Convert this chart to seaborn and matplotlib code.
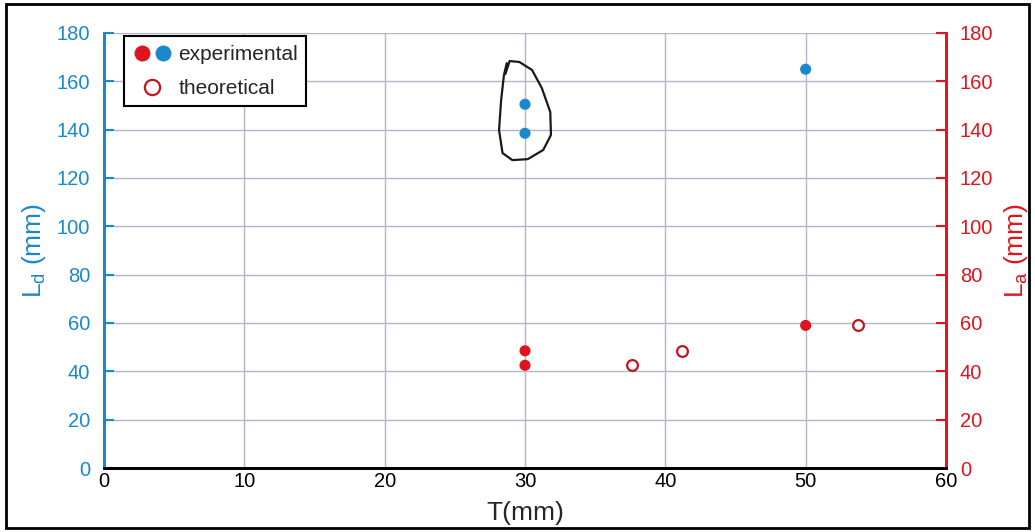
import numpy as np
import pandas as pd
import matplotlib
matplotlib.use("Agg")
import matplotlib.pyplot as plt
import seaborn as sns
from matplotlib.lines import Line2D
from matplotlib.legend_handler import HandlerTuple
from matplotlib.patches import Rectangle

# ---- data ----
exp_d_T = [30, 30, 50]
exp_d_L = [150.5, 138.5, 165.0]
exp_a_T = [30, 30, 50]
exp_a_L = [48.5, 42.5, 59.0]
theo_a_T = [37.6, 41.2, 53.7]
theo_a_L = [42.5, 48.5, 59.0]
# hand-drawn loop annotation (data coordinates)
loop_T = [28.6, 28.9, 29.6, 30.5, 31.2, 31.8, 31.85, 31.3, 30.2, 29.1, 28.4, 28.15, 28.3, 28.5, 28.7]
loop_L = [163.0, 168.4, 168.0, 164.7, 157.2, 147.3, 137.8, 131.6, 127.8, 127.4, 130.3, 139.8, 152.3, 162.6, 167.5]
x_ticks = [0, 10, 20, 30, 40, 50, 60]
y_ticks = [0, 20, 40, 60, 80, 100, 120, 140, 160, 180]

BLUE = "#1a88cc"
RED = "#e0141e"
DARKRED = "#c0161e"
GRID = "#b2b6c8"

sns.set_style("white")
plt.rcParams['font.family'] = ['Liberation Sans', 'DejaVu Sans']
plt.rcParams['mathtext.fontset'] = 'custom'
plt.rcParams['mathtext.rm'] = 'Liberation Sans'
plt.rcParams['mathtext.it'] = 'Liberation Sans'

fig = plt.figure(figsize=(10.35, 5.32), dpi=100)
ax = fig.add_axes([0.1005, 0.1203, 0.8135, 0.8177])
ax2 = ax.twinx()

df_d = pd.DataFrame({"T": exp_d_T, "L": exp_d_L})
df_a = pd.DataFrame({"T": exp_a_T, "L": exp_a_L})
df_t = pd.DataFrame({"T": theo_a_T, "L": theo_a_L})

sns.scatterplot(data=df_d, x="T", y="L", ax=ax, color=BLUE, s=64, edgecolor="none", zorder=3)
ax.plot(loop_T, loop_L, color="#1a1a1a", lw=1.6, zorder=4, solid_capstyle="round")

sns.scatterplot(data=df_a, x="T", y="L", ax=ax2, color=RED, s=64, edgecolor="none", zorder=3)
sns.scatterplot(data=df_t, x="T", y="L", ax=ax2, facecolor="white", edgecolor=DARKRED,
                s=60, linewidth=1.6, zorder=3)

for a in (ax, ax2):
    a.set_xlim(0, 60)
    a.set_ylim(0, 180)
    a.set_yticks(y_ticks)
    a.set_xticks(x_ticks)

ax.grid(True, color=GRID, lw=1.0)
ax.set_axisbelow(True)

ax.set_xlabel("T(mm)", fontsize=19, labelpad=7)
ax.set_ylabel(r"L$_\mathregular{d}$ (mm)", fontsize=19, color=BLUE, labelpad=6)
ax2.set_ylabel(r"L$_\mathregular{a}$ (mm)", fontsize=19, color=RED, labelpad=6)
ax2.set_xlabel("")

ax.tick_params(axis="y", direction="in", colors=BLUE, labelcolor=BLUE, labelsize=14.5, length=7, width=1.5, pad=10)
ax.tick_params(axis="x", direction="in", colors="black", labelsize=14.5, length=6, width=1.5, pad=3)
ax2.tick_params(axis="y", direction="in", colors=RED, labelcolor=RED, labelsize=14.5, length=7, width=1.5, pad=10)

for a in (ax, ax2):
    a.spines["top"].set_visible(False)
    a.spines["bottom"].set_color("black")
    a.spines["bottom"].set_linewidth(2)
    a.spines["left"].set_color(BLUE)
    a.spines["left"].set_linewidth(2)
    a.spines["right"].set_color(RED)
    a.spines["right"].set_linewidth(2)

h_red = Line2D([], [], marker="o", ls="none", color=RED, markersize=11.5, markeredgewidth=0)
h_blue = Line2D([], [], marker="o", ls="none", color=BLUE, markersize=11.5, markeredgewidth=0)
h_theo = Line2D([], [], marker="o", ls="none", markerfacecolor="white", markeredgecolor=DARKRED,
                markersize=11, markeredgewidth=1.6)
leg = ax2.legend([(h_red, h_blue), h_theo], ["experimental", "theoretical"],
                 handler_map={tuple: HandlerTuple(ndivide=None, pad=0.05)},
                 loc="upper left", bbox_to_anchor=(0.024, 0.992), borderaxespad=0, fontsize=15,
                 frameon=True, fancybox=False, edgecolor="black", framealpha=1,
                 handlelength=1.9, handletextpad=0.3, borderpad=0.4, labelspacing=0.72)
leg.get_frame().set_linewidth(1.5)

fig.patches.append(Rectangle((0.006, 0.008), 0.988, 0.984, transform=fig.transFigure,
                             fill=False, edgecolor="black", lw=2))

fig.savefig("out.png", dpi=100)
